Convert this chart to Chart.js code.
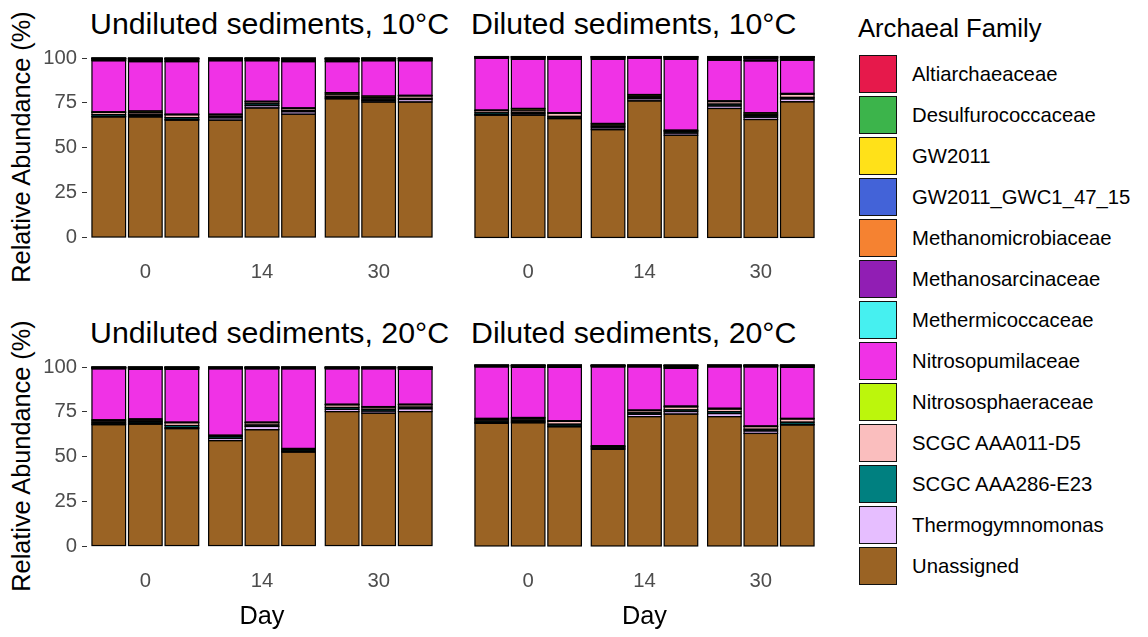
<!DOCTYPE html>
<html>
<head>
<meta charset="utf-8">
<script src="https://cdn.jsdelivr.net/npm/chart.js@4"></script>
<style>
  body { margin: 0; background: #fff; font-family: "Liberation Sans", Arial, sans-serif; }
  #wrap { position: relative; width: 1148px; height: 637px; overflow: hidden; }
  .panel { position: absolute; }
  .ptitle { position: absolute; font-size: 30.3px; line-height: 30.3px; color: #000; white-space: nowrap; }
  .ytitle { position: absolute; left: 22px; font-size: 25.3px; line-height: 25.3px; white-space: nowrap;
            transform: translate(-50%, -50%) rotate(-90deg); color: #000; }
  #legTitle { position: absolute; left: 858px; top: 16px; font-size: 25.6px; line-height: 25.6px; white-space: nowrap; }
  .key { position: absolute; left: 859px; width: 38px; height: 38px; box-sizing: border-box; border: 1.5px solid #111; }
  .klab { position: absolute; left: 912px; font-size: 20.3px; line-height: 38px; height: 38px; white-space: nowrap; color: #000; }
</style>
</head>
<body>
<div id="wrap">
  <div class="ptitle" style="left:90px; top:9px;">Undiluted sediments, 10°C</div>
  <div class="ptitle" style="left:471px; top:9px;">Diluted sediments, 10°C</div>
  <div class="ptitle" style="left:90px; top:318px;">Undiluted sediments, 20°C</div>
  <div class="ptitle" style="left:471px; top:318px;">Diluted sediments, 20°C</div>
  <div class="ytitle" style="top:147px;">Relative Abundance (%)</div>
  <div class="ytitle" style="top:456px;">Relative Abundance (%)</div>
  <div class="panel" style="left:0px; top:40px;"><canvas id="c1" width="445" height="250"></canvas></div>
  <div class="panel" style="left:450px; top:40px;"><canvas id="c2" width="400" height="250"></canvas></div>
  <div class="panel" style="left:0px; top:349px;"><canvas id="c3" width="445" height="288"></canvas></div>
  <div class="panel" style="left:450px; top:349px;"><canvas id="c4" width="400" height="288"></canvas></div>
  <div id="legTitle">Archaeal Family</div>
</div>
<script>
// x categories and y ticks
const days = ["0", "14", "30"];
const yTicks = [0, 25, 50, 75, 100];

// each family: 36 values = 4 panels (U10, D10, U20, D20) x 3 days x 3 replicates
const unassigned = [
  67.2, 67.2, 65.4, 65.4, 72.2, 68.7, 77.3, 75.5, 75.5,
  67.6, 67.6, 65.7, 59.6, 75.5, 56.5, 71.3, 65.2, 75.0,
  67.8, 68.1, 65.6, 58.9, 65.0, 52.5, 75.1, 74.2, 75.1,
  67.8, 68.1, 65.9, 53.4, 71.5, 72.9, 71.5, 62.2, 66.9
];
const thermogymnomonas = [
  0.3, 0.7, 0.4, 1.3, 1.3, 1.4, 0.6, 0.8, 1.4,
  0.3, 0.8, 0.4, 1.0, 1.2, 1.2, 1.4, 1.3, 1.6,
  0.5, 0.6, 0.5, 1.2, 1.8, 0.4, 1.3, 1.2, 1.6,
  0.5, 0.6, 0.4, 0.4, 1.3, 1.4, 1.7, 1.4, 0.3
];
const scgc286 = [
  1.0, 0.8, 1.0, 0.8, 1.0, 0.7, 0.8, 0.8, 0.6,
  1.0, 0.8, 0.8, 0.8, 0.8, 0.8, 1.0, 0.8, 0.8,
  0.8, 0.8, 1.2, 1.0, 0.8, 0.8, 1.0, 1.0, 0.9,
  0.8, 0.8, 1.0, 0.8, 0.8, 0.9, 1.0, 0.9, 1.2
];
const scgc011 = [
  1.2, 1.0, 1.6, 0.9, 1.1, 1.1, 1.2, 0.8, 1.4,
  1.2, 1.2, 1.8, 0.8, 0.7, 0.5, 1.4, 0.8, 1.8,
  0.8, 0.8, 1.6, 0.5, 1.3, 0.3, 1.5, 1.2, 1.3,
  0.8, 0.8, 1.6, 0.3, 1.2, 1.7, 1.5, 1.5, 1.8
];
const nitrososphaeraceae = [
  0.3, 0.8, 0.3, 0.3, 0.3, 0.3, 0.8, 0.9, 0.3,
  0.3, 0.9, 0.3, 0.8, 0.8, 0.3, 0.4, 0.8, 0.4,
  0.6, 0.7, 0.3, 0.3, 0.3, 0.5, 0.3, 0.3, 0.3,
  0.6, 0.7, 0.3, 0.5, 0.3, 0.4, 0.4, 0.3, 0.3
];
const nitrosopumilaceae = [
  28.5, 27.5, 29.3, 29.8, 22.6, 25.8, 17.3, 19.7, 19.3,
  28.6, 27.2, 29.5, 35.5, 20.0, 39.2, 22.5, 28.7, 18.4,
  28.5, 27.7, 29.5, 37.1, 29.8, 44.5, 19.8, 21.1, 19.5,
  28.5, 27.7, 29.5, 43.6, 23.9, 20.9, 22.9, 32.7, 28.2
];
const methermicoccaceae = [
  0.3, 0.4, 0.4, 0.3, 0.3, 0.4, 0.4, 0.3, 0.3,
  0.2, 0.3, 0.3, 0.3, 0.2, 0.3, 0.4, 0.4, 0.4,
  0.2, 0.3, 0.3, 0.2, 0.2, 0.2, 0.2, 0.2, 0.3,
  0.2, 0.3, 0.3, 0.2, 0.2, 0.3, 0.2, 0.2, 0.3
];
const methanosarcinaceae = [
  0.5, 0.7, 0.7, 0.5, 0.5, 0.7, 0.7, 0.5, 0.5,
  0.3, 0.5, 0.5, 0.5, 0.3, 0.5, 0.7, 0.9, 0.7,
  0.3, 0.4, 0.4, 0.3, 0.3, 0.3, 0.3, 0.3, 0.4,
  0.3, 0.4, 0.4, 0.3, 0.3, 0.6, 0.3, 0.3, 0.4
];
const methanomicrobiaceae = [
  0.3, 0.4, 0.4, 0.3, 0.3, 0.4, 0.4, 0.3, 0.3,
  0.2, 0.3, 0.3, 0.3, 0.2, 0.3, 0.4, 0.5, 0.4,
  0.2, 0.2, 0.2, 0.2, 0.2, 0.2, 0.2, 0.2, 0.2,
  0.2, 0.2, 0.2, 0.2, 0.2, 0.4, 0.2, 0.2, 0.2
];
const gwc1 = [
  0.2, 0.2, 0.2, 0.2, 0.2, 0.2, 0.2, 0.2, 0.2,
  0.1, 0.2, 0.2, 0.2, 0.1, 0.2, 0.2, 0.3, 0.2,
  0.1, 0.2, 0.2, 0.1, 0.1, 0.1, 0.1, 0.1, 0.2,
  0.1, 0.2, 0.2, 0.1, 0.1, 0.2, 0.1, 0.1, 0.2
];
const gw2011 = [
  0.1, 0.1, 0.1, 0.1, 0.1, 0.1, 0.1, 0.1, 0.1,
  0.1, 0.1, 0.1, 0.1, 0.1, 0.1, 0.1, 0.1, 0.1,
  0.1, 0.1, 0.1, 0.1, 0.1, 0.1, 0.1, 0.1, 0.1,
  0.1, 0.1, 0.1, 0.1, 0.1, 0.1, 0.1, 0.1, 0.1
];
const desulfurococcaceae = [
  0.05, 0.1, 0.1, 0.05, 0.05, 0.1, 0.1, 0.05, 0.05,
  0.05, 0.05, 0.05, 0.05, 0.05, 0.05, 0.1, 0.1, 0.1,
  0.05, 0.05, 0.05, 0.05, 0.05, 0.05, 0.05, 0.05, 0.05,
  0.05, 0.05, 0.05, 0.05, 0.05, 0.1, 0.05, 0.05, 0.05
];
const altiarchaeaceae = [
  0.05, 0.1, 0.1, 0.05, 0.05, 0.1, 0.1, 0.05, 0.05,
  0.05, 0.05, 0.05, 0.05, 0.05, 0.05, 0.1, 0.1, 0.1,
  0.05, 0.05, 0.05, 0.05, 0.05, 0.05, 0.05, 0.05, 0.05,
  0.05, 0.05, 0.05, 0.05, 0.05, 0.1, 0.05, 0.05, 0.05
];

// bottom of stack first
const families = [
  { name: "Unassigned", color: "#9A6324", values: unassigned },
  { name: "Thermogymnomonas", color: "#E6BEFF", values: thermogymnomonas },
  { name: "SCGC AAA286-E23", color: "#008080", values: scgc286 },
  { name: "SCGC AAA011-D5", color: "#FABEBE", values: scgc011 },
  { name: "Nitrososphaeraceae", color: "#BCF60C", values: nitrososphaeraceae },
  { name: "Nitrosopumilaceae", color: "#F032E6", values: nitrosopumilaceae },
  { name: "Methermicoccaceae", color: "#46F0F0", values: methermicoccaceae },
  { name: "Methanosarcinaceae", color: "#911EB4", values: methanosarcinaceae },
  { name: "Methanomicrobiaceae", color: "#F58231", values: methanomicrobiaceae },
  { name: "GW2011_GWC1_47_15", color: "#4363D8", values: gwc1 },
  { name: "GW2011", color: "#FFE119", values: gw2011 },
  { name: "Desulfurococcaceae", color: "#3CB44B", values: desulfurococcaceae },
  { name: "Altiarchaeaceae", color: "#E6194B", values: altiarchaeaceae }
];

const FONT = "'Liberation Sans', Arial, sans-serif";

// ggplot-style outline: stroke centred on every segment edge, drawn after the fills
const outlinePlugin = {
  id: "segOutline",
  afterDatasetsDraw(chart) {
    const ctx = chart.ctx;
    ctx.save();
    ctx.strokeStyle = "#000";
    ctx.lineWidth = 1.2;
    chart.data.datasets.forEach((ds, i) => {
      chart.getDatasetMeta(i).data.forEach((bar) => {
        const p = bar.getProps(["x", "y", "base", "width"], true);
        ctx.strokeRect(p.x - p.width / 2, Math.min(p.y, p.base), p.width, Math.abs(p.base - p.y));
      });
    });
    ctx.restore();
  },
};

function buildDatasets(panel) {
  const sets = [];
  for (let r = 0; r < 3; r++) {
    families.forEach((f) => {
      sets.push({
        label: f.name,
        data: days.map((d, i) => f.values[panel * 9 + i * 3 + r]),
        stack: "rep" + r,
        backgroundColor: f.color,
        borderWidth: 0,
        inflateAmount: 0,
        categoryPercentage: 0.94,
        barPercentage: 0.92,
      });
    });
  }
  return sets;
}

function makeChart(id, panel, showY, showXTitle) {
  const xHeight = showXTitle ? 82 : 43.5;
  const yScale = {
    display: showY,
    stacked: true,
    min: -5,
    max: 105,
    afterBuildTicks: (s) => { s.ticks = yTicks.map((v) => ({ value: v })); },
    grid: { drawOnChartArea: false, drawTicks: true, tickLength: 5, color: "#333" },
    border: { display: false },
    ticks: { color: "#4D4D4D", font: { family: FONT, size: 20.3, lineHeight: 0.4 }, padding: 5 },
  };
  if (showY) yScale.afterFit = (s) => { s.width = 87; };

  new Chart(document.getElementById(id), {
    type: "bar",
    data: { labels: days, datasets: buildDatasets(panel) },
    plugins: [outlinePlugin],
    options: {
      responsive: false,
      animation: false,
      devicePixelRatio: 1,
      layout: {
        autoPadding: false,
        padding: { top: showXTitle ? 7 : 7.5, right: showY ? 8 : 31, left: showY ? 0 : 20, bottom: 0 },
      },
      scales: {
        x: {
          stacked: true,
          grid: { display: false, drawTicks: false },
          border: { display: false },
          ticks: { color: "#4D4D4D", font: { family: FONT, size: 20.3 }, padding: 14 },
          title: {
            display: showXTitle,
            text: "Day",
            color: "#000",
            font: { family: FONT, size: 25.3 },
            padding: { top: 0, bottom: 5 },
          },
          afterFit: (s) => { s.height = xHeight; },
        },
        y: yScale,
      },
      plugins: {
        legend: { display: false },
        tooltip: { enabled: true },
      },
    },
  });
}

makeChart("c1", 0, true, false);
makeChart("c2", 1, false, false);
makeChart("c3", 2, true, true);
makeChart("c4", 3, false, true);

// legend, same order as the reference (top of stack first)
const wrap = document.getElementById("wrap");
families.slice().reverse().forEach((f, i) => {
  const top = 55 + i * 41;
  const key = document.createElement("div");
  key.className = "key";
  key.style.top = top + "px";
  key.style.background = f.color;
  wrap.appendChild(key);
  const lab = document.createElement("div");
  lab.className = "klab";
  lab.style.top = top + "px";
  lab.textContent = f.name;
  wrap.appendChild(lab);
});
</script>
</body>
</html>
